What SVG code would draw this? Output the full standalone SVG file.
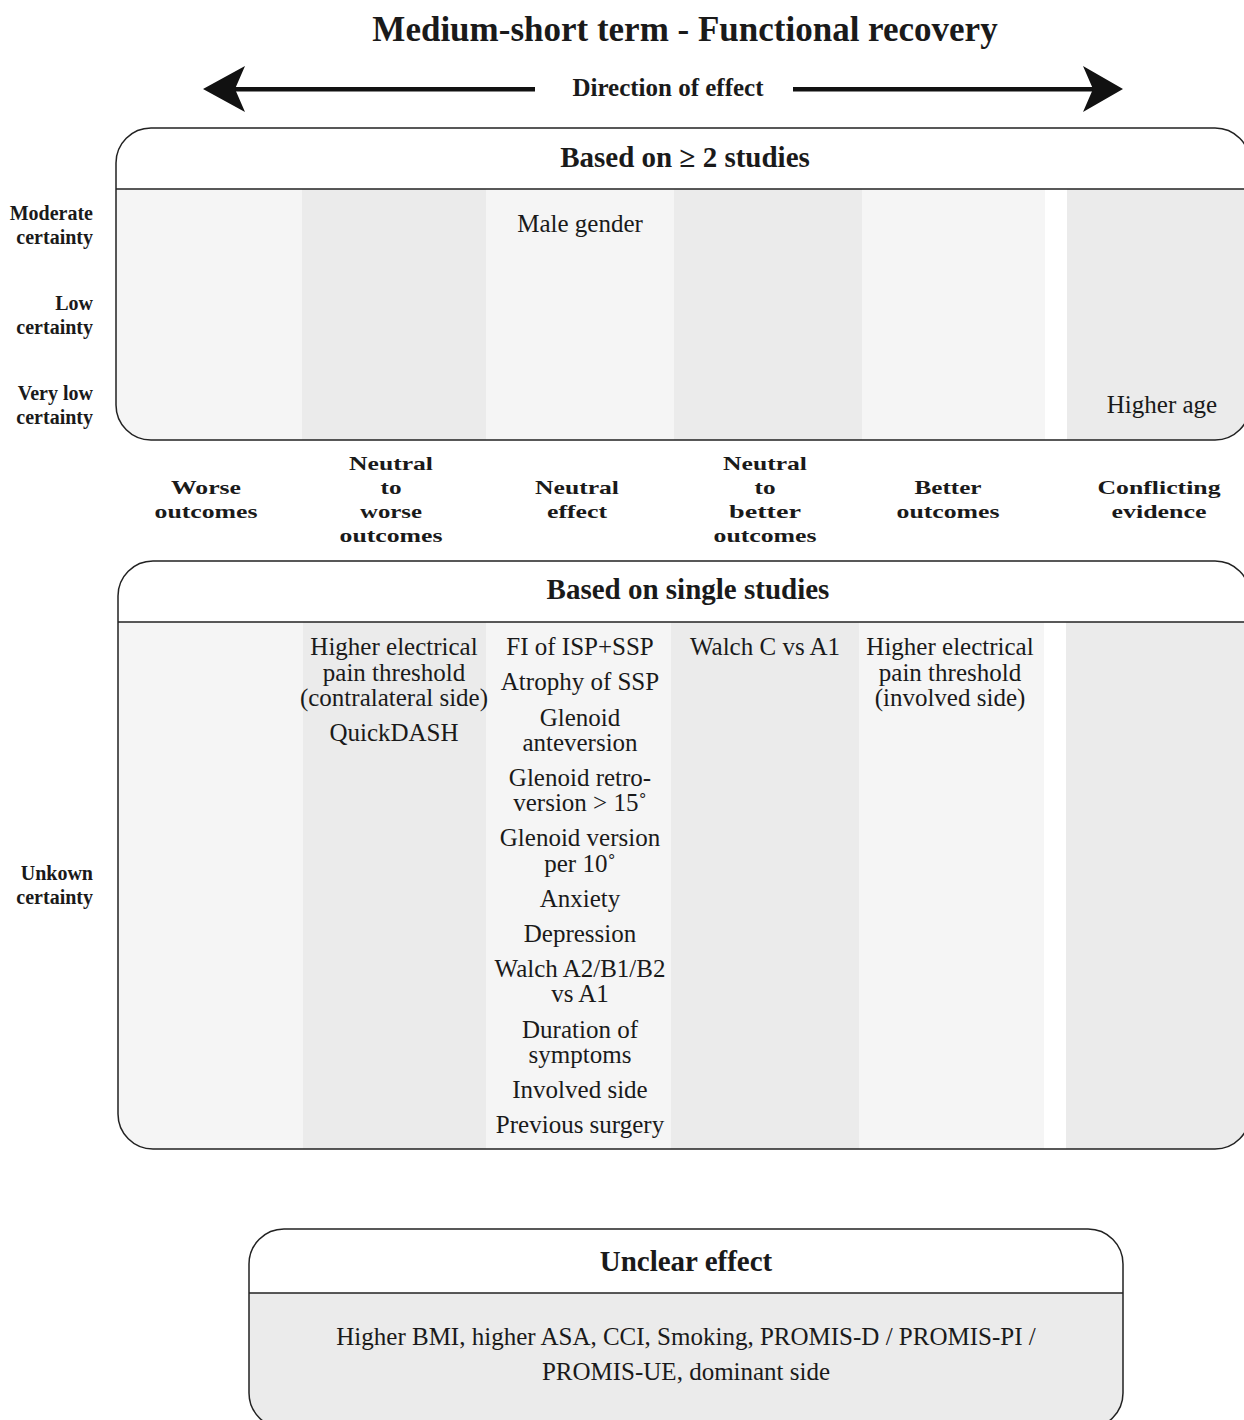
<svg xmlns="http://www.w3.org/2000/svg" width="1244" height="1420" viewBox="0 0 1244 1420">
<style>
.t{font-family:"Liberation Serif","Times New Roman",serif;fill:#1a1a1a}
.title{font-size:35px;font-weight:bold;text-anchor:middle}
.dir{font-size:25px;font-weight:bold;text-anchor:middle}
.hdr{font-size:29px;font-weight:bold;text-anchor:middle}
.lab{font-size:20px;font-weight:bold;text-anchor:end}
.col{font-size:19px;font-weight:bold;text-anchor:middle}
.item{font-size:25px;text-anchor:middle}
.box{fill:none;stroke:#222;stroke-width:1.5}
.sep{stroke:#222;stroke-width:1.5}
.c1{fill:#f5f5f5}
.c2{fill:#ebebeb}
.arrow{fill:#111}
</style>
<defs>
<clipPath id="clipA"><rect x="116" y="128" width="1134" height="312" rx="35" ry="35"/></clipPath>
<clipPath id="clipB"><rect x="118" y="561" width="1132" height="588" rx="35" ry="35"/></clipPath>
<clipPath id="clipC"><rect x="249" y="1229" width="874" height="199" rx="35" ry="35"/></clipPath>
</defs>
<rect x="0" y="0" width="1244" height="1420" fill="#ffffff"/>

<g id="title">
<text class="t title" x="685" y="41">Medium-short term - Functional recovery</text>
</g>

<g id="connectors">
<rect x="235" y="87" width="300" height="4.5" class="arrow"/>
<path class="arrow" d="M203,89 L245,66 L235,89 L245,112 Z"/>
<rect x="793" y="87" width="300" height="4.5" class="arrow"/>
<path class="arrow" d="M1123,89 L1083,66 L1093,89 L1083,112 Z"/>
</g>
<g id="direction">
<text class="t dir" x="668" y="96">Direction of effect</text>
</g>

<g id="box-multi">
<g clip-path="url(#clipA)">
<rect x="116" y="128" width="1134" height="61" fill="#ffffff"/>
<rect x="116" y="189" width="186" height="251" class="c1"/>
<rect x="302" y="189" width="184" height="251" class="c2"/>
<rect x="486" y="189" width="188" height="251" class="c1"/>
<rect x="674" y="189" width="188" height="251" class="c2"/>
<rect x="862" y="189" width="183" height="251" class="c1"/>
<rect x="1045" y="189" width="22" height="251" fill="#ffffff"/>
<rect x="1067" y="189" width="183" height="251" class="c2"/>
</g>
<rect x="116" y="128" width="1134" height="312" rx="35" ry="35" class="box"/>
<line x1="116" y1="189" x2="1250" y2="189" class="sep"/>
<text class="t hdr" x="685" y="167">Based on ≥ 2 studies</text>
<text class="t item" x="580" y="232">Male gender</text>
<text class="t item" x="1162" y="413">Higher age</text>
</g>

<g id="certainty-labels">
<text class="t lab" x="93" y="220">Moderate</text>
<text class="t lab" x="93" y="244">certainty</text>
<text class="t lab" x="93" y="310">Low</text>
<text class="t lab" x="93" y="334">certainty</text>
<text class="t lab" x="93" y="400">Very low</text>
<text class="t lab" x="93" y="424">certainty</text>
<text class="t lab" x="93" y="880">Unkown</text>
<text class="t lab" x="93" y="904">certainty</text>
</g>

<g id="column-labels">
<text class="t col" x="206" y="494" textLength="70" lengthAdjust="spacingAndGlyphs">Worse</text>
<text class="t col" x="206" y="518" textLength="103" lengthAdjust="spacingAndGlyphs">outcomes</text>
<text class="t col" x="391" y="470" textLength="84" lengthAdjust="spacingAndGlyphs">Neutral</text>
<text class="t col" x="391" y="494" textLength="21" lengthAdjust="spacingAndGlyphs">to</text>
<text class="t col" x="391" y="518" textLength="62" lengthAdjust="spacingAndGlyphs">worse</text>
<text class="t col" x="391" y="542" textLength="103" lengthAdjust="spacingAndGlyphs">outcomes</text>
<text class="t col" x="577" y="494" textLength="84" lengthAdjust="spacingAndGlyphs">Neutral</text>
<text class="t col" x="577" y="518" textLength="60" lengthAdjust="spacingAndGlyphs">effect</text>
<text class="t col" x="765" y="470" textLength="84" lengthAdjust="spacingAndGlyphs">Neutral</text>
<text class="t col" x="765" y="494" textLength="21" lengthAdjust="spacingAndGlyphs">to</text>
<text class="t col" x="765" y="518" textLength="72" lengthAdjust="spacingAndGlyphs">better</text>
<text class="t col" x="765" y="542" textLength="103" lengthAdjust="spacingAndGlyphs">outcomes</text>
<text class="t col" x="948" y="494" textLength="67" lengthAdjust="spacingAndGlyphs">Better</text>
<text class="t col" x="948" y="518" textLength="103" lengthAdjust="spacingAndGlyphs">outcomes</text>
<text class="t col" x="1159" y="494" textLength="123" lengthAdjust="spacingAndGlyphs">Conflicting</text>
<text class="t col" x="1159" y="518" textLength="95" lengthAdjust="spacingAndGlyphs">evidence</text>
</g>

<g id="box-single">
<g clip-path="url(#clipB)">
<rect x="118" y="561" width="1132" height="61" fill="#ffffff"/>
<rect x="118" y="622" width="185" height="527" class="c1"/>
<rect x="303" y="622" width="183" height="527" class="c2"/>
<rect x="486" y="622" width="185" height="527" class="c1"/>
<rect x="671" y="622" width="188" height="527" class="c2"/>
<rect x="859" y="622" width="185" height="527" class="c1"/>
<rect x="1044" y="622" width="22" height="527" fill="#ffffff"/>
<rect x="1066" y="622" width="184" height="527" class="c2"/>
</g>
<rect x="118" y="561" width="1132" height="588" rx="35" ry="35" class="box"/>
<line x1="118" y1="622" x2="1250" y2="622" class="sep"/>
<text class="t hdr" x="688" y="599">Based on single studies</text>

<text class="t item" x="394" y="655">Higher electrical</text>
<text class="t item" x="394" y="681">pain threshold</text>
<text class="t item" x="394" y="706">(contralateral side)</text>
<text class="t item" x="394" y="741">QuickDASH</text>

<text class="t item" x="580" y="655">FI of ISP+SSP</text>
<text class="t item" x="580" y="690">Atrophy of SSP</text>
<text class="t item" x="580" y="726">Glenoid</text>
<text class="t item" x="580" y="751">anteversion</text>
<text class="t item" x="580" y="786">Glenoid retro-</text>
<text class="t item" x="580" y="811">version &gt; 15˚</text>
<text class="t item" x="580" y="846">Glenoid version</text>
<text class="t item" x="580" y="872">per 10˚</text>
<text class="t item" x="580" y="907">Anxiety</text>
<text class="t item" x="580" y="942">Depression</text>
<text class="t item" x="580" y="977">Walch A2/B1/B2</text>
<text class="t item" x="580" y="1002">vs A1</text>
<text class="t item" x="580" y="1038">Duration of</text>
<text class="t item" x="580" y="1063">symptoms</text>
<text class="t item" x="580" y="1098">Involved side</text>
<text class="t item" x="580" y="1133">Previous surgery</text>

<text class="t item" x="765" y="655">Walch C vs A1</text>

<text class="t item" x="950" y="655">Higher electrical</text>
<text class="t item" x="950" y="681">pain threshold</text>
<text class="t item" x="950" y="706">(involved side)</text>
</g>

<g id="box-unclear">
<g clip-path="url(#clipC)">
<rect x="249" y="1229" width="874" height="64" fill="#ffffff"/>
<rect x="249" y="1293" width="874" height="135" class="c2"/>
</g>
<rect x="249" y="1229" width="874" height="199" rx="35" ry="35" class="box"/>
<line x1="249" y1="1293" x2="1123" y2="1293" class="sep"/>
<text class="t hdr" x="686" y="1271">Unclear effect</text>
<text class="t item" x="686" y="1345">Higher BMI, higher ASA, CCI, Smoking, PROMIS-D / PROMIS-PI /</text>
<text class="t item" x="686" y="1380">PROMIS-UE, dominant side</text>
</g>
</svg>
